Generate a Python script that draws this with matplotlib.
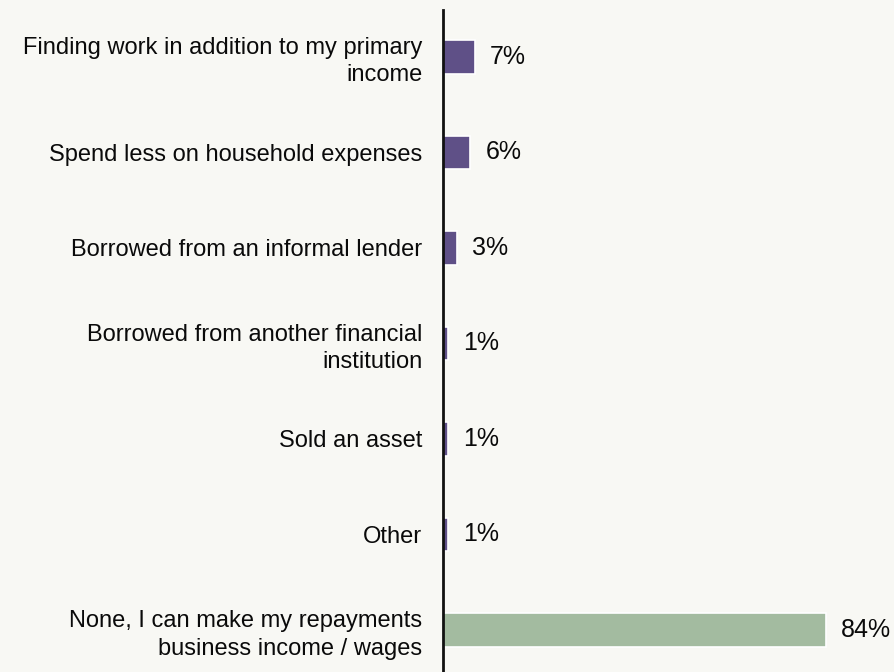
import matplotlib.pyplot as plt

# responses and share of respondents (%)
labels = [
    "Finding work in addition to my primary\nincome",
    "Spend less on household expenses",
    "Borrowed from an informal lender",
    "Borrowed from another financial\ninstitution",
    "Sold an asset",
    "Other",
    "None, I can make my repayments\nbusiness income / wages",
]
values = [7, 6, 3, 1, 1, 1, 84]
colors = ["#5f5087"] * 6 + ["#a3bba0"]

bg = "#f8f8f4"
plt.rcParams["font.family"] = ["Liberation Sans", "DejaVu Sans"]

fig = plt.figure(figsize=(8.94, 6.72), dpi=100, facecolor=bg)
ax = fig.add_axes([443 / 894, 0, 1 - 443 / 894, 662 / 672], facecolor=bg)

y = list(range(len(values)))
ax.barh(y, values, height=0.35, color=colors, edgecolor="white", linewidth=1.2)

for yi, v in zip(y, values):
    ax.annotate(f"{v}%", (v, yi), xytext=(11, 0), textcoords="offset points",
                va="center", ha="left", fontsize=18, color="#0a0a0a")

ax.set_yticks(y)
ax.set_yticklabels(labels, fontsize=17, color="#0a0a0a", linespacing=1.3)
ax.tick_params(axis="y", length=0, pad=15)
ax.set_xticks([])
ax.set_xlim(0, 451 / 4.56)
ax.set_ylim(6.44, -0.49)

for side in ["top", "right", "bottom"]:
    ax.spines[side].set_visible(False)
ax.spines["left"].set_linewidth(2)
ax.spines["left"].set_color("#111111")

fig.savefig("out.png", dpi=100, facecolor=bg)
